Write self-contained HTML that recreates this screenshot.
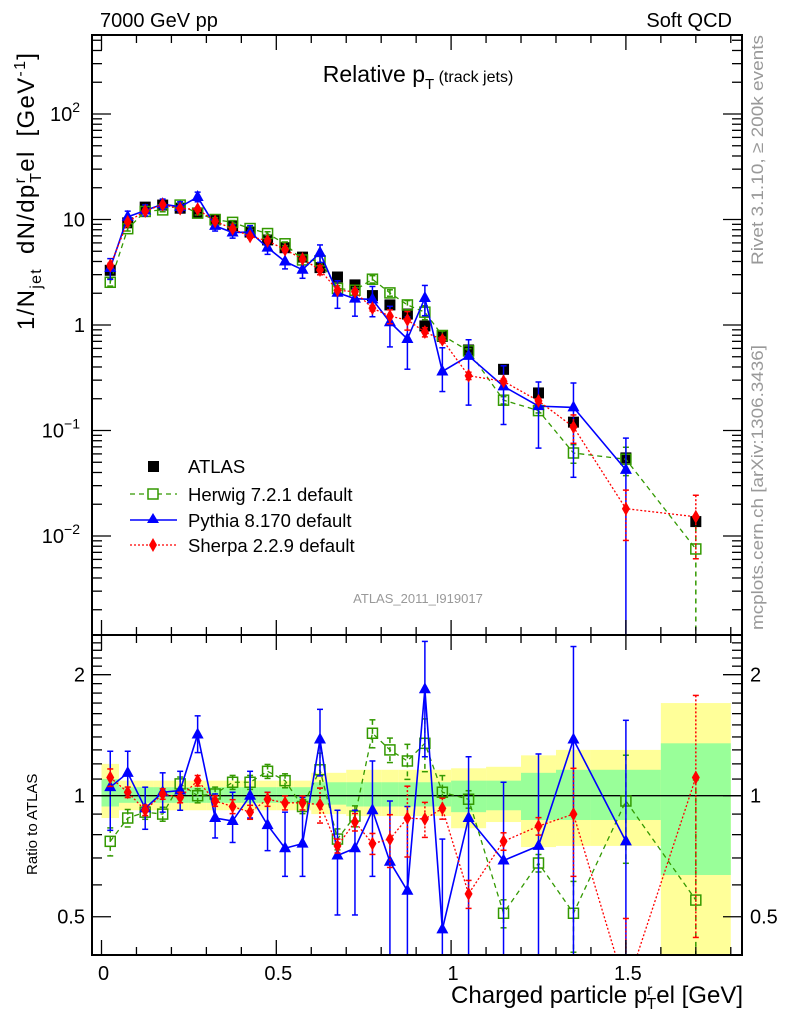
<!DOCTYPE html>
<html><head><meta charset="utf-8"><style>
html,body{margin:0;padding:0;background:#fff;overflow:hidden}
svg{display:block;font-family:"Liberation Sans",sans-serif}
</style></head><body>
<svg id="c" width="786" height="1024" viewBox="0 0 786 1024" xmlns="http://www.w3.org/2000/svg">
<defs>
<clipPath id="cpMain"><rect x="92" y="35" width="650" height="600"/></clipPath>
<clipPath id="cpRat"><rect x="92" y="635" width="650" height="320"/></clipPath>
</defs>
<g id="bands" clip-path="url(#cpRat)"></g>
<g id="plots"></g>
<g id="axes"></g>
<text x="100" y="27" font-size="20">7000 GeV pp</text>
<text x="732" y="27" font-size="20" text-anchor="end">Soft QCD</text>
<text x="418" y="82" font-size="23" text-anchor="middle">Relative p<tspan font-size="15" dy="7">T</tspan><tspan font-size="16" dy="-7"> (track jets)</tspan></text>
<text x="418" y="603" font-size="13" fill="#999" text-anchor="middle">ATLAS_2011_I919017</text>
<text transform="translate(763,265) rotate(-90)" font-size="17" fill="#999" textLength="230" lengthAdjust="spacingAndGlyphs">Rivet 3.1.10, ≥ 200k events</text>
<text transform="translate(763,630) rotate(-90)" font-size="17" fill="#999" textLength="285" lengthAdjust="spacingAndGlyphs">mcplots.cern.ch [arXiv:1306.3436]</text>
<text transform="translate(34,330) rotate(-90)" font-size="24" word-spacing="6" letter-spacing="1.3">1/N<tspan font-size="16" dy="7">jet</tspan><tspan dy="-7"> dN/dp</tspan><tspan font-size="16" dy="-9">r</tspan><tspan font-size="16" dx="-6" dy="16">T</tspan><tspan dy="-7">el [GeV</tspan><tspan font-size="16" dy="-9">-1</tspan><tspan dy="9">]</tspan></text>
<text transform="translate(37,875) rotate(-90)" font-size="15">Ratio to ATLAS</text>
<text x="743" y="1003" font-size="24" text-anchor="end">Charged particle p<tspan font-size="16" dy="-8">r</tspan><tspan font-size="16" dx="-6" dy="14">T</tspan><tspan dy="-6">el [GeV]</tspan></text>
<g id="legend">
<g><rect x="148" y="461" width="11" height="11" fill="#000"/><text x="188" y="473" font-size="18.5">ATLAS</text></g>
<g><line x1="130" y1="494" x2="177" y2="494" stroke="#339900" stroke-width="1.3" stroke-dasharray="5,4"/><rect x="148" y="489" width="10" height="10" fill="#fff" stroke="#339900" stroke-width="1.5"/><text x="188" y="501" font-size="18.5">Herwig 7.2.1 default</text></g>
<g><line x1="130" y1="520" x2="177" y2="520" stroke="#0000ff" stroke-width="1.5"/><polygon points="153,513 159,523 147,523" fill="#0000ff"/><text x="188" y="527" font-size="18.5">Pythia 8.170 default</text></g>
<g><line x1="130" y1="545" x2="177" y2="545" stroke="#ff0000" stroke-width="1.3" stroke-dasharray="2,2"/><polygon points="153,538 157,545 153,552 149,545" fill="#ff0000"/><text x="188" y="552" font-size="18.5">Sherpa 2.2.9 default</text></g>
</g>
</svg>
<script>
const binCenters=[0.025,0.075,0.125,0.175,0.225,0.275,0.325,0.375,0.425,0.475,0.525,0.575,0.625,0.675,0.725,0.775,0.825,0.875,0.925,0.975,1.05,1.15,1.25,1.35,1.5,1.7];
const binLo=[0,0.05,0.1,0.15,0.2,0.25,0.3,0.35,0.4,0.45,0.5,0.55,0.6,0.65,0.7,0.75,0.8,0.85,0.9,0.95,1.0,1.1,1.2,1.3,1.4,1.6];
const binHi=[0.05,0.1,0.15,0.2,0.25,0.3,0.35,0.4,0.45,0.5,0.55,0.6,0.65,0.7,0.75,0.8,0.85,0.9,0.95,1.0,1.1,1.2,1.3,1.4,1.6,1.8];
const atlasVals=[3.3,9.3,13.1,13.7,12.8,11.5,9.9,8.7,7.6,6.4,5.4,4.4,3.5,2.85,2.4,1.9,1.55,1.27,0.98,0.78,0.58,0.38,0.227,0.12,0.055,0.0137];
const bandGreenUp=[1.10,1.05,1.05,1.05,1.05,1.05,1.05,1.05,1.05,1.05,1.05,1.05,1.08,1.08,1.08,1.08,1.08,1.08,1.08,1.08,1.09,1.09,1.14,1.16,1.16,1.35];
const bandGreenDn=[0.94,0.96,0.96,0.96,0.96,0.96,0.96,0.96,0.96,0.96,0.96,0.96,0.95,0.95,0.94,0.94,0.94,0.94,0.94,0.94,0.91,0.92,0.87,0.87,0.87,0.635];
const bandYellowUp=[1.20,1.09,1.09,1.09,1.09,1.09,1.09,1.09,1.09,1.09,1.09,1.09,1.14,1.14,1.16,1.16,1.16,1.16,1.16,1.16,1.17,1.18,1.26,1.30,1.30,1.70];
const bandYellowDn=[0.88,0.92,0.92,0.92,0.92,0.92,0.92,0.92,0.92,0.92,0.92,0.92,0.90,0.90,0.89,0.89,0.89,0.89,0.89,0.89,0.83,0.86,0.745,0.75,0.75,0.3];
const herRatio=[0.77,0.88,0.91,0.90,1.07,1.0,1.01,1.08,1.08,1.15,1.09,0.94,1.16,0.78,0.89,1.43,1.30,1.22,1.35,1.02,0.98,0.51,0.68,0.51,0.97,0.55];
const herErr=[0.08,0.05,0.04,0.04,0.04,0.04,0.04,0.04,0.04,0.04,0.04,0.04,0.1,0.06,0.06,0.08,0.07,0.1,0.15,0.1,0.05,0.08,0.05,0.2,0.3,0.99];
const pyRatio=[1.05,1.14,0.93,1.02,1.03,1.42,0.88,0.865,1.0,0.845,0.74,0.76,1.38,0.71,0.74,0.92,0.685,0.58,1.84,0.465,0.88,0.69,0.75,1.38,0.77,null];
const pyUp=[1.29,1.29,1.05,1.14,1.15,1.58,1.01,1.02,1.15,1.02,0.91,0.99,1.64,0.92,0.92,1.22,0.97,0.94,2.42,0.78,1.25,1.08,1.27,2.35,1.54,null];
const pyDn=[0.82,1.01,0.825,0.91,0.92,1.28,0.785,0.765,0.88,0.73,0.63,0.63,1.12,0.505,0.505,0.63,0.40,0.3,1.25,0.3,0.3,0.3,0.3,0.3,0.01,null];
const shRatio=[1.11,1.02,0.92,1.01,0.99,1.09,0.97,0.94,0.91,0.98,0.96,0.96,0.95,0.75,0.86,0.76,0.78,0.88,0.875,0.93,0.57,0.77,0.84,0.90,0.33,1.11];
const shErr=[0.05,0.03,0.03,0.03,0.03,0.03,0.03,0.04,0.04,0.04,0.04,0.04,0.1,0.04,0.05,0.06,0.15,0.2,0.1,0.06,0.08,0.05,0.05,0.3,0.5,0.6];
const xTicks=[0,0.5,1,1.5];
const ratioTicks=[0.5,1,2];

const NS='http://www.w3.org/2000/svg';
const X=v=>101.5+v*349.6;
const YM=v=>325-Math.log10(v)*105.5;
const YR=r=>795.7-Math.log10(r)*402;
function mk(tag,attrs,parent){const e=document.createElementNS(NS,tag);for(const k in attrs)e.setAttribute(k,attrs[k]);parent.appendChild(e);return e;}
const plots=document.getElementById('plots');
const bands=document.getElementById('bands');
const axes=document.getElementById('axes');

binCenters.forEach((c,i)=>{
  const y=mk('rect',{x:X(binLo[i]),y:YR(bandYellowUp[i]),width:X(binHi[i])-X(binLo[i]),height:YR(bandYellowDn[i])-YR(bandYellowUp[i]),fill:'#ffff99'},bands);
  
  
});
binCenters.forEach((c,i)=>{
  const g=mk('rect',{x:X(binLo[i]),y:YR(bandGreenUp[i]),width:X(binHi[i])-X(binLo[i]),height:YR(bandGreenDn[i])-YR(bandGreenUp[i]),fill:'#99ff99'},bands);
  
  
});
const ref=mk('line',{x1:92,x2:742,y1:YR(1),y2:YR(1),stroke:'#000','stroke-width':1.3},plots);



function marker(type,x,y,col,parent){
  let e;
  if(type==='sq') e=mk('rect',{x:x-5.5,y:y-5.5,width:11,height:11,fill:'#000'},parent);
  else if(type==='osq') e=mk('rect',{x:x-5,y:y-5,width:10,height:10,fill:'none',stroke:col,'stroke-width':1.5},parent);
  else if(type==='tri') e=mk('polygon',{points:`${x},${y-7} ${x+6},${y+4} ${x-6},${y+4}`,fill:col},parent);
  else e=mk('polygon',{points:`${x},${y-7} ${x+4},${y} ${x},${y+7} ${x-4},${y}`,fill:col},parent);
  return e;
}
function series(name,ratios,ups,dns,col,dash,width,type){
  ['main','ratio'].forEach(panel=>{
    const g=mk('g',{'clip-path':panel==='main'?'url(#cpMain)':'url(#cpRat)'},plots);
    
    
    const Y=(i,r)=>panel==='main'?YM(atlasVals[i]*r):YR(r);
    let pts=[];
    ratios.forEach((r,i)=>{ if(r!==null) pts.push(X(binCenters[i])+','+Y(i,r)); });
    const pl=mk('polyline',{points:pts.join(' '),fill:'none',stroke:col,'stroke-width':width,'stroke-dasharray':dash},g);
    
    
    ratios.forEach((r,i)=>{
      if(r===null)return;
      const x=X(binCenters[i]);
      const eb=mk('line',{x1:x,x2:x,y1:Y(i,Math.max(ups[i],0.001)),y2:Y(i,Math.max(dns[i],0.001)),stroke:col,'stroke-width':1.5,'stroke-dasharray':dash},g);
      
      
      [ups[i],dns[i]].forEach(v=>{const cap=mk('line',{x1:x-3,x2:x+3,y1:Y(i,Math.max(v,0.001)),y2:Y(i,Math.max(v,0.001)),stroke:col,'stroke-width':1.5},g);
        
        });
      const m=marker(type,x,Y(i,r),col,g);
      
      
    });
  });
}
const ag=mk('g',{'clip-path':'url(#cpMain)'},plots);


atlasVals.forEach((v,i)=>{const m=marker('sq',X(binCenters[i]),YM(v),'#000',ag);
  
  });
series('herwig',herRatio,herRatio.map((r,i)=>r*(1+herErr[i])),herRatio.map((r,i)=>r*(1-herErr[i])),'#339900','5,4',1.3,'osq');
series('pythia',pyRatio,pyUp,pyDn,'#0000ff','none',1.6,'tri');
series('sherpa',shRatio,shRatio.map((r,i)=>r*(1+shErr[i])),shRatio.map((r,i)=>r*(1-shErr[i])),'#ff0000','2,2',1.3,'dia');

[[35,635],[635,955]].forEach(([t,b],k)=>{
  const f=mk('rect',{x:92,y:t,width:650,height:b-t,fill:'none',stroke:'#000','stroke-width':2},axes);
  
  
  for(let v=0;v<=1.8001;v+=0.1){
    const major=xTicks.some(t2=>Math.abs(t2-v)<1e-6);const L=major?15:8;const x=X(v);
    mk('line',{x1:x,x2:x,y1:b,y2:b-L,stroke:'#000','stroke-width':1.3},axes);
    mk('line',{x1:x,x2:x,y1:t,y2:t+L,stroke:'#000','stroke-width':1.3},axes);
  }
});
xTicks.forEach(v=>{const tx=mk('text',{x:X(v)+2,y:980,'font-size':20,'text-anchor':'middle'},axes);tx.textContent=String(v);
  
  });
for(let d=-3;d<=2;d++){for(let m=1;m<=9;m++){const v=m*Math.pow(10,d);const y=YM(v);if(y<36||y>634)continue;const L=m===1?19:10;
  mk('line',{x1:92,x2:92+L,y1:y,y2:y,stroke:'#000','stroke-width':1.3},axes);
  mk('line',{x1:742,x2:742-L,y1:y,y2:y,stroke:'#000','stroke-width':1.3},axes);}}
const mainLabels=[[2,'10','2'],[1,'10',''],[0,'1',''],[-1,'10','−1'],[-2,'10','−2']];
mainLabels.forEach(([d,base,sup])=>{const t=mk('text',{x:sup?80:85,y:YM(Math.pow(10,d))+7,'font-size':20,'text-anchor':'end'},axes);
  t.textContent=base;
  if(sup){const s=mk('tspan',{'font-size':14,dy:-9},t);s.textContent=sup;}
  
  });
for(let v=0.4;v<=2.55;v+=0.1){const y=YR(v);if(y<636||y>954)continue;const major=ratioTicks.some(t2=>Math.abs(t2-v)<1e-6);const L=major?19:10;
  mk('line',{x1:92,x2:92+L,y1:y,y2:y,stroke:'#000','stroke-width':1.3},axes);
  mk('line',{x1:742,x2:742-L,y1:y,y2:y,stroke:'#000','stroke-width':1.3},axes);}
ratioTicks.forEach(v=>{[[85,'end'],[750,'start']].forEach(([x,a])=>{const t=mk('text',{x:x,y:YR(v)+7,'font-size':20,'text-anchor':a},axes);t.textContent=String(v);
  
  });});
</script>
</body></html>
